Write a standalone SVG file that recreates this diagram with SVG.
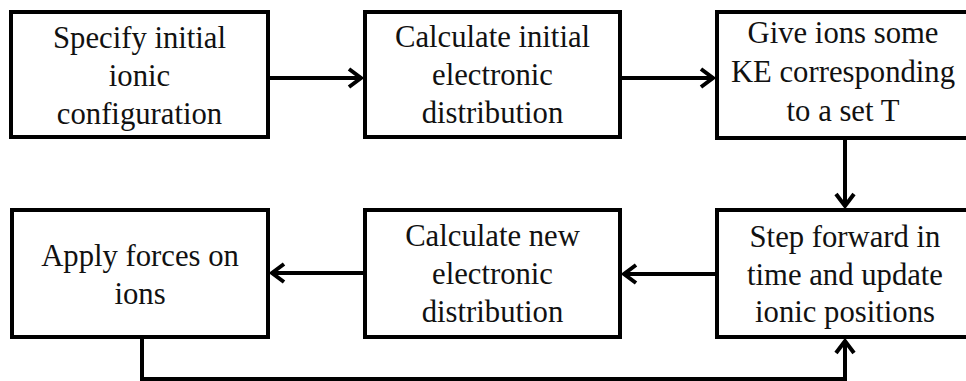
<svg xmlns="http://www.w3.org/2000/svg" width="966" height="381" viewBox="0 0 966 381">
<defs>
<style>
.box{fill:#fff;stroke:#000;stroke-width:4}
.t{font-family:"Liberation Serif","Times New Roman",serif;font-size:30.7px;fill:#111;text-anchor:middle}
.c{fill:none;stroke:#000;stroke-width:4}
</style>
<marker id="ah" markerUnits="userSpaceOnUse" viewBox="-16 -12 20 24" markerWidth="20" markerHeight="24" refX="0" refY="0" orient="auto">
<path d="M-12,-9 L0,0 L-12,9" fill="none" stroke="#000" stroke-width="4"/>
</marker>
</defs>
<rect width="966" height="381" fill="#fff"/>
<g id="connectors">
<line class="c" x1="270" y1="78" x2="361" y2="78" marker-end="url(#ah)"/>
<line class="c" x1="622" y1="78" x2="713" y2="78" marker-end="url(#ah)"/>
<line class="c" x1="845" y1="139" x2="845" y2="206" marker-end="url(#ah)"/>
<line class="c" x1="715" y1="274" x2="624" y2="274" marker-end="url(#ah)"/>
<line class="c" x1="363" y1="273" x2="272" y2="273" marker-end="url(#ah)"/>
<polyline class="c" points="142,339 142,379 845,379 845,341" marker-end="url(#ah)"/>
</g>
<g id="n1">
<rect class="box" x="11" y="12" width="257" height="125"/>
<text class="t" x="139.5" y="48">Specify initial</text>
<text class="t" x="139.5" y="86">ionic</text>
<text class="t" x="139.5" y="124">configuration</text>
</g>
<g id="n2">
<rect class="box" x="365" y="12" width="255" height="125"/>
<text class="t" x="492.5" y="47">Calculate initial</text>
<text class="t" x="492.5" y="85">electronic</text>
<text class="t" x="492.5" y="123">distribution</text>
</g>
<g id="n3">
<rect class="box" x="717" y="12" width="252" height="126"/>
<text class="t" x="843" y="43">Give ions some</text>
<text class="t" x="843" y="82">KE corresponding</text>
<text class="t" x="843" y="121">to a set T</text>
</g>
<g id="n4">
<rect class="box" x="12" y="210" width="256" height="127"/>
<text class="t" x="140" y="266">Apply forces on</text>
<text class="t" x="140" y="304">ions</text>
</g>
<g id="n5">
<rect class="box" x="365" y="210" width="255" height="127"/>
<text class="t" x="492.5" y="246">Calculate new</text>
<text class="t" x="492.5" y="284">electronic</text>
<text class="t" x="492.5" y="322">distribution</text>
</g>
<g id="n6">
<rect class="box" x="717" y="210" width="255" height="127"/>
<text class="t" x="845" y="247">Step forward in</text>
<text class="t" x="845" y="284.5">time and update</text>
<text class="t" x="845" y="322">ionic positions</text>
</g>
</svg>
